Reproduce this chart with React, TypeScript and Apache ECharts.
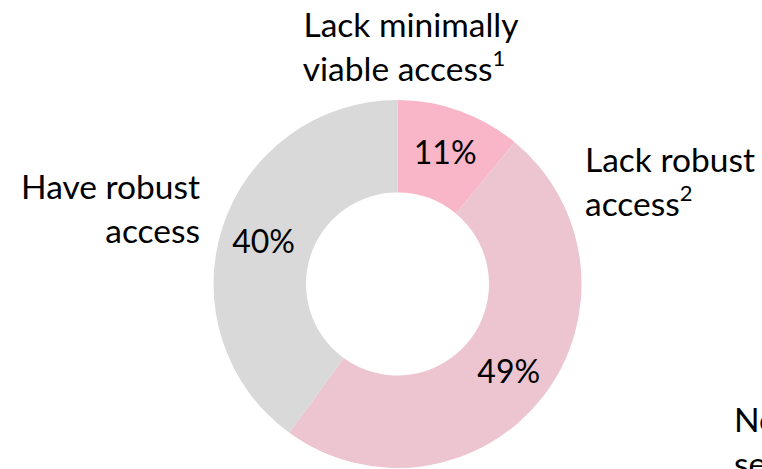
import React, { useEffect, useRef } from "react";
import * as echarts from "echarts";

const categories = ["Lack minimally viable access", "Lack robust access", "Have robust access"];
const values = [11, 49, 40];
const colors = ["#F8B6C8", "#ECC5D1", "#D9D9D9"];
// {sup|n} marks a footnote superscript
const topLabelLines = ["Lack minimally", "viable access{sup|1}"];
const rightLabel = "Lack robust\naccess{sup|2}";
const leftLabel = "Have robust\naccess";
const noteLines = "Note\nsee";

const FONT = "Lato, 'Open Sans', sans-serif";
const FS = 33.5;
const LH = 44;

export default function App() {
  const ref = useRef<HTMLDivElement>(null);
  useEffect(() => {
    document.body.style.margin = "0";
    const chart = echarts.init(ref.current!, null, { renderer: "svg" });
    const txt = (text: string, x: number, y: number, align: string) => ({
      type: "text",
      x,
      y,
      style: {
        text,
        fill: "#000",
        fontSize: FS,
        fontFamily: FONT,
        lineHeight: LH,
        align,
        verticalAlign: "middle",
        rich: {
          sup: {
            fontSize: 22,
            fontFamily: FONT,
            fill: "#000",
            lineHeight: 33,
            verticalAlign: "top",
          },
        },
      },
    });
    chart.setOption({
      animation: false,
      backgroundColor: "#ffffff",
      series: [
        {
          type: "pie",
          center: [397.5, 284],
          radius: [91.5, 184],
          startAngle: 90,
          clockwise: true,
          silent: true,
          data: categories.map((c, i) => ({
            name: c,
            value: values[i],
            itemStyle: { color: colors[i] },
          })),
          label: {
            show: true,
            position: "inside",
            formatter: (p: any) => `${p.value}%`,
            color: "#000",
            fontSize: 32,
            fontFamily: FONT,
          },
          labelLine: { show: false },
        },
      ],
      graphic: [
        txt(topLabelLines[0], 411, 24, "center"),
        txt(topLabelLines[1], 404, 68, "center"),
        txt(rightLabel, 585, 181, "left"),
        txt(leftLabel, 200, 208, "right"),
        txt(noteLines, 734, 441, "left"),
      ],
    });
    return () => chart.dispose();
  }, []);
  return (
    <div
      ref={ref}
      style={{ position: "absolute", left: 0, top: 0, width: 762, height: 469 }}
    />
  );
}
